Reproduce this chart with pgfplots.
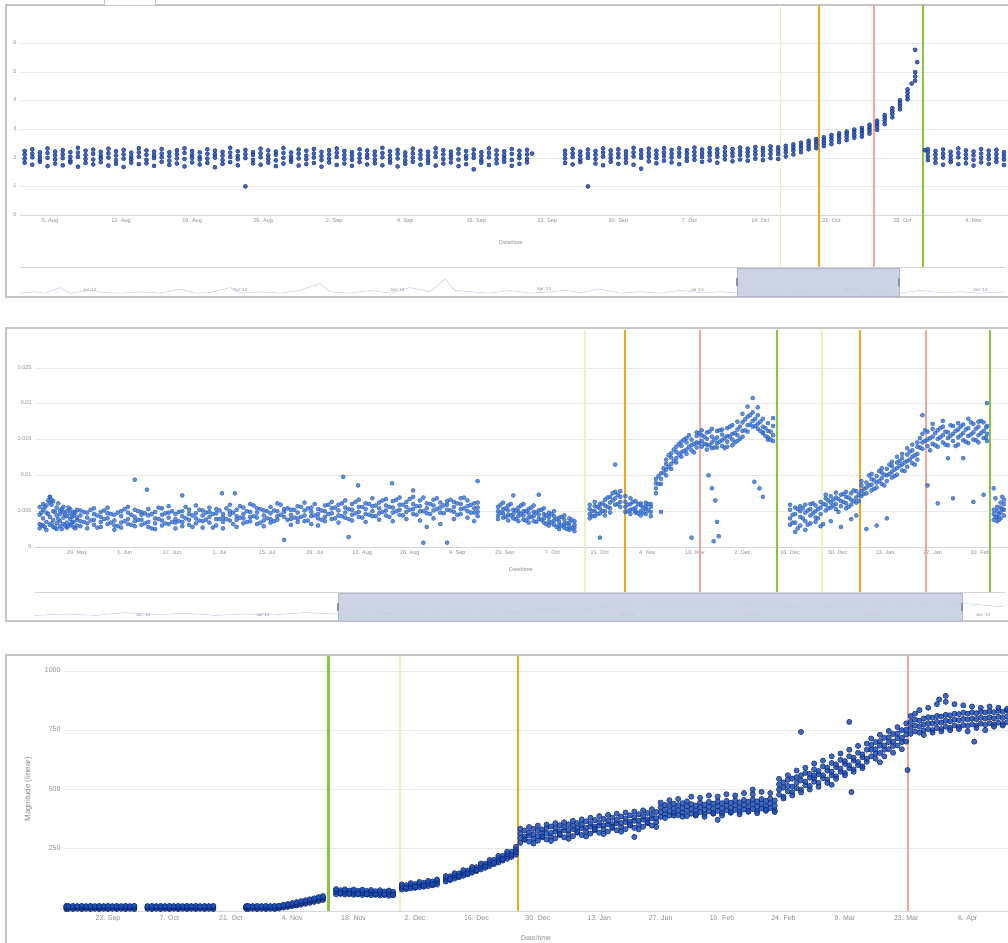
\documentclass[border=0pt]{standalone}
\usepackage{pgfplots}
\usepackage{pgfplotstable}
\pgfplotsset{compat=1.18}
\usepackage{fontspec}
\setmainfont{Liberation Sans}

\definecolor{framec}{HTML}{C4C4C4}
\definecolor{gridc}{HTML}{E8E8E8}
\definecolor{axisc}{HTML}{D0D6E0}
\definecolor{labc}{HTML}{8C8C8C}
\definecolor{cLime}{HTML}{EAF2BE}
\definecolor{cOrange}{HTML}{F2A61F}
\definecolor{cSalmon}{HTML}{F1A69C}
\definecolor{cGreen}{HTML}{8BC53F}
\definecolor{navfill}{HTML}{C7CFE2}
\definecolor{navedge}{HTML}{AEB7CC}
\definecolor{navline}{HTML}{B9CBE3}
\definecolor{pA}{HTML}{1E4AAE}
\definecolor{pAd}{HTML}{0C2574}
\definecolor{pB}{HTML}{3672D6}
\definecolor{pBd}{HTML}{1A4AA8}
\definecolor{pC}{HTML}{1A4DB8}
\definecolor{pCd}{HTML}{081A52}

\pgfplotsset{
  hc/.style={scale only axis, anchor=south west, clip=false,
    axis x line*=bottom, axis y line*=left,
    x axis line style={draw=axisc, line width=0.6pt},
    y axis line style={draw=none},
    major tick length=0pt, tick style={draw=none},
    typeset ticklabels with strut,
    ymajorgrids, grid style={draw=gridc, line width=0.6pt},
    tick label style={text=labc}},
  nav/.style={scale only axis, anchor=south west, clip=false,
    axis x line*=bottom, axis y line*=left,
    x axis line style={draw=none}, y axis line style={draw=none},
    major tick length=0pt, tick style={draw=none}, ytick=\empty,
    xticklabel style={anchor=south, yshift=1pt, font=\fontsize{4.5}{5}\selectfont, text=labc},
    ymin=0, ymax=10},
  dotsA/.style={only marks, mark=*, mark size=2.1pt, mark options={fill=pA, draw=pAd, line width=0.25pt, fill opacity=0.85}},
  dotsB/.style={only marks, mark=*, mark size=2.1pt, mark options={fill=pB, draw=pBd, line width=0.25pt, fill opacity=0.8, draw opacity=0.8}},
  dotsC/.style={only marks, mark=*, mark size=2.7pt, mark options={fill=pC, draw=pCd, line width=0.4pt, fill opacity=0.85, draw opacity=0.9}},
}

% ---------------- Panel 1 data (days from 5 Aug) ----------------
\pgfplotstableread{
x a b c d
-2.50 2.24 2.11 1.97 1.83
-1.75 2.30 2.15 2.02 1.76
-1.00 2.19 2.06 1.93 1.86
-0.25 2.33 2.17 2.00 1.71
0.50 2.22 2.09 1.95 1.80
1.25 2.27 2.13 1.99 1.74
2.00 2.20 2.04 1.91 1.84
2.75 2.35 2.18 2.03 1.69
3.50 2.25 2.10 1.96 1.82
4.25 2.29 2.14 1.94 1.77
5.00 2.21 2.07 1.98 1.85
5.75 2.32 2.16 2.01 1.73
6.50 2.23 2.08 1.92 1.79
7.25 2.28 2.12 1.97 1.68
8.00 2.18 2.05 1.95 1.83
8.75 2.34 2.19 2.04 1.78
9.50 2.26 2.11 1.93 1.81
10.25 2.22 2.09 1.99 1.72
11.00 2.31 2.15 2.02 1.86
11.75 2.20 2.06 1.90 1.75
12.50 2.27 2.13 1.98 1.80
13.25 2.33 2.17 1.96 1.70
14.00 2.24 2.10 2.00 1.84
14.75 2.19 2.03 1.94 1.77
15.50 2.30 2.14 1.97 1.82
16.25 2.25 2.12 2.01 1.67
17.00 2.21 2.08 1.92 1.79
17.75 2.35 2.18 2.03 1.85
18.50 2.23 2.07 1.95 1.74
19.25 2.28 2.13 1.99 1.00
20.00 2.20 2.10 1.93 1.81
20.75 2.32 2.16 2.02 1.76
21.50 2.26 2.09 1.96 1.83
22.25 2.22 2.11 1.91 1.71
23.00 2.34 2.17 2.00 1.80
23.75 2.19 2.05 1.94 1.86
24.50 2.29 2.14 1.98 1.73
25.25 2.25 2.08 1.95 1.78
26.00 2.31 2.15 2.01 1.82
26.75 2.21 2.06 1.92 1.69
27.50 2.27 2.12 1.97 1.84
28.25 2.33 2.18 2.03 1.75
29.00 2.24 2.10 1.96 1.80
29.75 2.20 2.07 1.93 1.72
30.50 2.30 2.13 1.99 1.85
31.25 2.26 2.11 2.00 1.77
32.00 2.22 2.09 1.94 1.81
32.75 2.35 2.17 2.02 1.74
33.50 2.23 2.08 1.95 1.83
34.25 2.28 2.14 1.98 1.70
35.00 2.19 2.06 1.91 1.79
35.75 2.32 2.16 2.01 1.86
36.50 2.25 2.11 1.97 1.76
37.25 2.21 2.07 1.93 1.82
38.00 2.34 2.18 2.03 1.73
38.75 2.27 2.12 1.96 1.80
39.50 2.22 2.10 1.99 1.84
40.25 2.30 2.15 1.94 1.71
41.00 2.24 2.08 1.97 1.78
41.75 2.29 2.13 2.00 1.60
42.50 2.20 2.06 1.92 1.83
43.25 2.33 2.17 2.02 1.75
44.00 2.26 2.11 1.95 1.81
44.75 2.23 2.09 1.98 1.86
45.50 2.31 2.14 1.93 1.72
46.25 2.25 2.10 1.99 1.79
47.00 2.28 2.12 1.96 1.84
50.75 2.25 2.12 1.98 1.82
51.50 2.31 2.16 2.03 1.77
52.25 2.22 2.09 1.95 1.85
53.00 2.29 2.14 2.00 1.00
53.75 2.24 2.11 1.96 1.80
54.50 2.33 2.18 2.04 1.74
55.25 2.26 2.12 1.99 1.86
56.00 2.30 2.15 2.02 1.79
56.75 2.23 2.10 1.97 1.83
57.50 2.35 2.19 2.05 1.76
58.25 2.27 2.13 2.00 1.62
59.00 2.32 2.17 2.04 1.88
59.75 2.25 2.12 1.99 1.81
60.50 2.34 2.19 2.06 1.90
61.25 2.28 2.14 2.01 1.84
62.00 2.33 2.18 2.05 1.78
62.75 2.27 2.15 2.02 1.89
63.50 2.36 2.21 2.07 1.93
64.25 2.29 2.16 2.03 1.86
65.00 2.34 2.20 2.08 1.91
65.75 2.30 2.17 2.04 1.83
66.50 2.37 2.22 2.09 1.95
67.25 2.31 2.18 2.06 1.88
68.00 2.36 2.23 2.10 1.94
68.75 2.32 2.20 2.07 1.90
69.50 2.38 2.24 2.12 1.97
70.25 2.34 2.22 2.09 1.92
71.00 2.40 2.27 2.14 1.99
71.75 2.37 2.25 2.13 1.96
72.50 2.42 2.31 2.20 2.05
73.25 2.47 2.36 2.26 2.12
74.00 2.53 2.43 2.33 2.20
74.75 2.60 2.50 2.40 2.30
75.50 2.66 2.56 2.46 2.34
76.25 2.72 2.62 2.52 2.41
77.00 2.80 2.70 2.60 2.48
77.75 2.86 2.77 2.67 2.55
78.50 2.92 2.84 2.74 2.62
79.25 2.99 2.90 2.80 2.70
80.00 3.05 2.96 2.86 2.74
80.75 3.16 3.06 2.96 2.85
81.50 3.30 3.20 3.10 2.98
82.25 3.50 3.40 3.30 3.18
83.00 3.74 3.64 3.54 3.42
83.75 4.02 3.92 3.82 3.70
84.50 4.40 4.28 4.16 4.05
85.25 5.00 4.85 4.70 5.78
86.50 2.30 2.18 2.05 1.92
87.25 2.24 2.11 1.97 1.83
88.00 2.29 2.14 2.01 1.76
88.75 2.21 2.08 1.95 1.85
89.50 2.33 2.17 2.02 1.78
90.25 2.26 2.12 1.98 1.81
91.00 2.22 2.09 1.93 1.73
91.75 2.31 2.15 2.00 1.84
92.50 2.25 2.10 1.96 1.79
93.25 2.28 2.13 1.99 1.86
94.00 2.20 2.07 1.94 1.75
}\tabA

% ---------------- Panel 2 data (days from 20 May, values in 1e-3) ----------------
\pgfplotstableread{
x a b c d
-11 3.2 4.5 5.6 2.6
-10 4.0 5.2 3.0 6.0
-9 3.5 4.8 5.8 2.4
-8 4.2 6.2 7.0 3.1
-7 3.8 5.0 6.4 2.8
-6 4.4 3.3 5.5 2.5
-5 3.6 4.6 5.1 2.9
-4 4.1 3.2 4.9 5.6
-3 3.4 4.3 2.7 5.0
-2 3.9 4.7 3.1 5.3
-1 3.5 4.4 2.8 4.9
0 3.8 4.1 3.0 5.2
1 3.6 4.4 2.9 5.1
3 4.1 3.3 4.8 2.6
5 3.8 4.6 3.1 5.4
7 3.5 4.2 2.8 4.9
9 4.0 3.2 4.7 5.5
11 3.7 4.5 3.0 2.4
13 4.3 3.4 5.0 2.7
15 3.9 4.8 3.2 5.6
17 4.2 3.6 5.2 2.9
19 3.8 4.5 3.1 4.9
21 4.4 3.5 5.3 2.8
23 4.0 4.9 3.3 2.5
25 4.5 3.7 5.4 3.0
27 4.1 4.8 3.2 5.7
29 3.9 4.6 3.4 2.6
31 4.3 5.0 3.5 2.9
33 4.6 3.8 5.2 3.1
35 4.0 4.7 3.3 5.8
37 4.4 3.6 5.1 2.7
39 4.2 4.9 3.4 5.5
41 4.7 3.9 5.3 3.0
43 4.1 4.6 3.5 2.6
45 4.5 5.0 3.7 5.9
47 4.3 3.8 5.2 2.8
49 4.6 4.0 5.5 3.3
51 4.2 4.9 3.6 6.0
53 4.8 4.1 5.4 3.2
55 4.4 5.1 3.7 2.9
57 4.7 3.9 5.6 3.4
59 4.3 5.0 3.8 6.1
61 4.9 4.2 5.3 1.0
63 4.5 5.2 3.9 3.1
65 4.8 4.0 5.7 3.5
67 4.4 5.1 3.6 6.2
69 4.9 4.3 5.5 3.2
71 4.6 5.3 4.0 3.0
73 5.0 4.2 5.8 3.6
75 4.7 5.4 3.9 6.3
77 5.1 4.4 5.9 3.4
79 4.8 5.5 4.1 6.5
81 5.2 4.5 6.0 3.7
83 4.9 5.6 4.2 6.6
85 5.3 4.6 6.1 3.5
87 5.0 5.7 4.3 6.8
89 5.4 4.7 6.2 3.8
91 5.1 5.8 4.4 6.7
93 5.5 4.8 6.4 3.6
95 5.2 5.9 4.5 6.9
97 5.6 4.9 6.3 3.9
99 5.3 6.0 4.6 7.0
101 5.7 5.0 6.5 3.7
103 5.4 6.1 4.7 2.8
105 5.8 5.1 6.6 4.0
107 5.5 6.2 4.8 3.2
109 5.9 5.2 6.4 0.6
111 5.6 6.3 4.9 3.9
113 5.3 6.0 4.6 6.8
115 5.7 5.0 6.5 4.1
117 5.4 6.1 4.8 3.6
118 5.5 4.9 6.2 4.3
124 5.0 4.4 5.6 3.9
125.5 4.7 5.3 4.1 6.2
127 5.1 4.5 5.8 3.7
128.5 4.6 5.2 4.0 7.2
130 4.9 4.3 5.5 3.6
131.5 4.4 5.0 3.8 6.0
133 4.7 4.1 5.3 3.4
134.5 4.3 4.9 3.6 5.8
136 4.5 3.9 5.1 7.3
137.5 4.0 4.6 3.4 5.4
139 4.2 3.6 4.8 3.0
140.5 3.7 4.3 3.1 5.0
142 3.5 3.0 4.1 2.5
143.5 3.2 3.8 2.7 4.4
145 2.9 3.4 2.4 4.0
146.5 2.7 3.1 2.2 3.6
151 4.6 5.3 4.0 5.9
152.5 5.0 5.7 4.3 6.3
154 5.4 4.7 6.0 1.3
155.5 5.8 5.0 6.6 4.4
157 6.2 5.4 7.0 4.8
158.5 6.8 7.7 5.9 11.5
160 7.0 6.3 7.8 5.6
161.5 5.6 6.3 4.9 7.1
163 5.2 6.0 4.6 6.8
164.5 5.5 4.8 6.4 5.0
166 5.0 5.8 4.4 6.1
167.5 5.3 4.6 6.2 5.7
169 4.9 5.6 4.3 6.0
170.5 8.2 8.9 7.5 9.5
172 9.5 10.3 8.8 4.9
173.5 10.8 11.6 10.0 12.2
175 11.6 12.5 10.9 13.1
176.5 12.4 13.3 11.8 14.0
178 13.2 14.1 12.6 14.7
179.5 13.6 14.6 13.0 15.2
181 14.2 15.0 13.5 1.3
182.5 14.6 15.5 13.9 16.0
184 14.8 15.6 14.0 16.3
185.5 15.1 14.3 16.0 13.6
187 14.6 15.4 13.8 16.5
188.5 15.3 14.5 16.2 13.9
190 14.9 15.7 14.1 16.4
191.5 15.5 14.7 16.6 14.0
193 15.0 15.8 14.2 17.0
194.5 15.6 16.4 14.8 17.5
196 16.2 17.4 15.4 18.6
197.5 17.0 18.2 16.1 19.6
199 17.6 18.8 16.8 20.8
200.5 17.2 18.4 16.5 19.5
202 16.8 17.9 15.9 16.0
203.5 16.2 17.3 15.3 15.0
205 15.6 16.9 14.8 18.0
210 4.0 5.2 3.1 5.9
211.5 4.6 3.4 5.5 2.1
213 4.2 5.0 3.0 5.7
214.5 4.8 3.6 5.9 2.4
216 4.4 5.3 3.3 6.0
217.5 5.0 4.1 5.8 3.5
219 5.5 6.3 4.6 2.9
220.5 5.9 6.8 5.1 7.3
222 6.2 7.1 5.5 3.6
223.5 6.0 6.9 5.3 7.6
225 6.4 7.3 5.7 2.8
226.5 6.1 7.0 5.4 7.7
228 6.6 7.5 5.9 3.9
229.5 6.9 7.8 6.2 4.4
231 7.8 8.6 7.1 9.2
232.5 8.3 9.0 7.5 2.5
234 8.7 9.5 7.9 10.2
235.5 9.0 9.9 8.3 3.0
237 9.6 10.4 8.8 11.0
238.5 10.0 10.9 9.2 4.0
240 10.5 11.3 9.7 11.9
241.5 11.0 11.8 10.1 12.6
243 11.5 12.4 10.7 13.0
244.5 12.0 12.9 11.2 13.8
246 12.6 13.5 11.7 14.3
247.5 13.0 14.0 12.2 14.6
249 14.6 15.8 13.7 18.4
250.5 15.0 16.1 14.1 8.6
252 15.4 16.5 14.4 17.2
253.5 15.1 16.3 14.0 6.1
255 15.6 16.8 14.6 17.6
256.5 15.2 16.0 14.2 12.4
258 15.8 16.9 14.8 6.8
259.5 15.3 16.4 14.3 17.3
261 15.9 17.1 14.9 12.4
262.5 15.5 16.6 14.5 17.9
264 16.0 17.2 15.0 6.3
265.5 15.6 16.8 14.6 17.5
267 16.2 17.4 15.2 7.3
268 15.8 20.1 14.8 16.9
270 3.8 4.6 5.2 8.2
271 4.2 5.0 3.6 5.6
272 4.8 5.5 4.0 6.2
273 5.2 6.0 4.4 6.6
}\tabB

% second, offset set of samples for panel 2
\pgfplotstableread{
x p q
-10.5 4.8 3.0
-9.5 5.5 2.8
-8.5 4.6 6.5
-7.5 3.3 5.9
-6.5 4.9 2.7
-5.5 3.9 6.1
-4.5 5.3 2.5
-3.5 3.0 4.5
-2.5 5.5 2.9
-1.5 4.2 3.4
-0.5 4.8 2.6
2 4.9 3.5
4 3.7 5.2
6 4.4 2.7
8 5.1 3.9
10 3.4 4.6
12 4.8 2.9
14 3.6 5.3
16 4.5 3.1
18 5.0 3.8
20 3.3 4.7
22 4.6 2.6
24 3.9 5.5
26 4.7 3.3
28 3.5 5.0
30 4.9 3.6
32 4.0 5.6
34 4.4 2.8
36 5.2 3.7
38 3.8 4.8
40 4.6 2.7
42 5.1 3.9
44 3.9 5.4
46 4.8 3.2
48 4.1 5.7
50 5.0 3.5
52 4.3 5.8
54 5.3 3.4
56 4.0 5.0
58 5.1 3.6
60 4.5 5.9
62 3.8 5.4
64 5.2 4.1
66 4.2 5.6
68 5.4 3.7
70 4.4 6.0
72 5.1 3.8
74 4.6 5.9
76 5.5 4.0
78 4.3 6.1
80 5.3 3.9
82 4.7 6.3
84 5.6 4.1
86 4.5 6.0
88 5.8 4.3
90 4.9 6.5
92 5.6 4.2
94 5.0 6.6
96 5.9 4.4
98 5.2 6.7
100 5.7 4.5
102 5.0 6.9
104 6.0 4.6
106 5.3 6.8
108 5.8 4.7
110 5.1 6.6
112 6.1 4.5
114 5.4 6.9
116 5.9 4.8
124.75 4.8 5.9
126.25 5.4 4.2
127.75 4.4 6.0
129.25 5.1 3.9
130.75 4.6 5.8
132.25 5.0 3.7
133.75 4.2 5.5
135.25 4.8 3.5
136.75 3.8 5.2
138.25 4.4 3.2
139.75 3.4 4.6
141.25 3.9 2.8
142.75 3.0 4.2
144.25 3.3 2.5
145.75 2.6 3.8
151.75 5.0 4.3
153.25 5.6 4.6
154.75 6.1 5.0
156.25 5.6 6.9
157.75 6.5 7.5
159.25 7.3 6.0
162.25 5.9 5.0
163.75 5.3 6.3
165.25 4.7 6.0
166.75 5.5 4.8
168.25 6.0 5.1
171.25 8.8 9.9
172.75 10.4 11.0
174.25 11.2 12.8
175.75 12.0 13.6
177.25 12.9 14.4
178.75 13.4 15.0
180.25 14.0 15.6
181.75 14.4 13.2
183.25 14.5 15.9
184.75 15.4 14.4
186.25 14.2 16.1
187.75 15.0 13.9
189.25 14.7 16.3
190.75 15.2 13.8
192.25 15.4 16.8
193.75 15.9 14.6
195.25 16.8 15.1
196.75 17.8 16.3
198.25 18.4 17.1
199.75 17.9 16.9
201.25 17.5 16.2
202.75 16.6 15.5
204.25 16.1 15.0
210.75 4.5 3.4
212.25 5.3 2.6
213.75 4.0 5.4
215.25 5.1 3.1
216.75 4.7 6.1
218.25 5.3 4.0
219.75 6.0 3.2
221.25 6.5 5.4
222.75 5.8 6.6
224.25 6.7 4.9
225.75 6.3 7.4
227.25 6.9 5.6
228.75 6.4 7.9
230.25 7.3 6.4
231.75 8.1 7.4
233.25 8.6 10.0
234.75 9.3 8.1
236.25 9.2 10.6
237.75 10.1 8.6
239.25 10.2 11.5
240.75 10.8 9.9
242.25 11.3 12.0
243.75 11.8 10.6
245.25 12.2 13.3
246.75 12.8 11.5
248.25 13.9 15.2
249.75 14.8 16.3
251.25 15.2 13.5
252.75 15.9 14.2
254.25 15.3 16.6
255.75 16.1 14.3
257.25 15.5 17.0
258.75 16.2 14.1
260.25 15.6 16.8
261.75 16.4 14.7
263.25 15.7 17.4
264.75 16.5 14.9
266.25 15.9 17.6
267.75 16.7 15.3
270.5 4.2 6.8
271.5 4.6 3.8
272.5 5.3 7.0
}\tabBB

% ---------------- Panel 3 data (days from 23 Sep) ----------------
\pgfplotstableread{
x a b c d
-9.5 -4 1 5 9
-9 -3 2 6 8
-8 -4 1 5 9
-7 -3 2 6 8
-6 -4 1 5 9
-5 -3 2 6 8
-4 -4 1 5 9
-3 -3 2 6 8
-2 -4 1 5 9
-1 -3 2 6 8
0 -4 1 5 9
1 -3 2 6 8
2 -4 1 5 9
3 -3 2 6 8
4 -4 1 5 9
5 -3 2 6 8
6 -4 1 5 9
9 -3 2 6 8
10 -4 1 5 9
11 -3 2 6 8
12 -4 1 5 9
13 -3 2 6 8
14 -4 1 5 9
15 -3 2 6 8
16 -4 1 5 9
17 -3 2 6 8
18 -4 1 5 9
19 -3 2 6 8
20 -4 1 5 9
21 -3 2 6 8
22 -4 1 5 9
23 -3 2 6 8
24 -4 1 5 9
31.5 -3 2 6 8
32 -4 1 5 9
33 -3 2 6 8
34 -4 1 5 9
35 -3 2 6 8
36 -4 1 5 9
37 -3 2 6 8
38 -4 1 5 9
39 -2 3 7 10
40 2 6 10 14
41 5 9 13 17
42 8 12 16 21
43 11 15 20 25
44 14 19 24 29
45 18 23 28 33
46 22 27 32 37
47 26 31 36 41
48 30 35 40 46
49 34 40 45 51
52 58 66 74 80
53 60 68 75 62
54 57 65 73 79
55 59 67 74 61
56 56 64 72 78
57 58 66 73 60
58 55 63 71 77
59 57 65 72 59
60 54 62 70 76
61 56 64 71 58
62 53 61 69 75
63 55 63 70 57
64 52 60 68 74
65 54 62 69 56
67 78 86 94 100
68 80 88 96 84
69 83 91 99 105
70 85 93 101 89
71 88 96 104 110
72 90 98 106 94
73 93 101 109 115
74 96 104 112 100
75 99 107 115 121
77 112 120 128 135
78 118 126 134 122
79 124 132 140 147
80 130 138 146 134
81 136 144 152 160
82 142 150 158 146
83 149 157 165 173
84 156 164 172 160
85 163 171 180 188
86 170 178 187 175
87 177 186 195 203
88 185 194 203 190
89 192 201 211 220
90 200 210 220 206
91 208 218 228 238
92 216 226 237 222
93 225 236 247 258
94 275 295 315 335
95 288 302 327 290
96 280 306 318 342
97 293 310 334 272
98 284 303 326 348
99 298 318 332 302
100 289 314 337 352
101 302 317 344 283
102 294 322 336 358
103 308 324 349 312
104 298 328 341 362
105 313 329 353 292
106 303 333 347 368
107 318 336 358 322
108 308 337 352 374
109 323 339 366 302
110 314 343 357 381
111 328 344 371 333
112 318 348 362 388
113 333 349 376 312
114 323 353 368 393
115 338 354 381 343
116 328 358 372 398
117 343 359 386 322
118 333 363 378 403
119 348 364 391 352
120 338 368 383 407
121 353 369 396 332
122 343 373 388 412
123 358 374 401 362
124 348 378 393 417
125 362 379 405 342
126 385 405 425 445
127 395 415 435 380
128 390 410 432 455
129 400 420 440 390
130 392 412 434 460
131 402 422 442 385
132 388 410 430 450
133 398 418 438 470
134 390 412 432 395
135 405 425 445 465
136 395 415 436 385
137 408 428 448 475
138 398 418 440 400
139 410 430 450 470
140 400 420 442 390
141 412 432 452 480
142 402 422 444 405
143 414 434 454 475
144 404 424 446 395
145 416 436 456 485
146 406 426 448 410
147 418 438 458 480
148 408 428 450 400
149 420 440 460 490
150 410 430 452 415
151 422 442 462 485
152 412 432 454 405
153 478 500 522 545
154 470 508 530 462
155 492 515 541 560
156 488 512 546 475
157 505 528 552 580
158 500 538 560 488
159 518 533 570 592
160 515 550 566 500
161 533 548 585 610
162 528 565 578 512
163 548 560 597 622
164 542 580 593 528
165 560 575 612 640
166 556 594 606 545
167 575 588 625 652
168 570 608 620 560
169 590 602 640 668
170 585 622 634 575
171 603 616 655 684
172 598 636 648 590
173 617 630 668 694
174 640 668 688 715
175 652 670 700 630
176 654 685 704 731
177 668 686 718 640
178 670 700 720 747
179 684 702 734 655
180 686 716 736 763
181 700 718 750 670
182 702 732 752 779
183 735 760 785 810
184 745 770 795 820
185 740 765 790 835
186 750 775 800 730
187 755 780 805 845
188 750 778 803 740
189 760 785 810 860
190 755 782 808 745
191 765 790 815 870
192 760 788 813 750
193 770 795 820 860
194 765 792 818 755
195 772 798 824 855
196 768 795 820 745
197 775 800 826 850
198 770 797 822 760
199 778 803 828 845
200 772 799 825 750
201 780 805 830 850
202 775 800 826 765
203 782 807 832 845
204 776 802 828 770
205 784 809 834 840
}\tabC

\begin{document}
\begin{tikzpicture}[x=1pt,y=1pt]
\useasboundingbox (0pt,0pt) rectangle (1008pt,942pt);

% frames
\draw[framec, line width=1.2pt] (6pt,645pt) rectangle (1012pt,937pt);
\draw[framec, line width=0.8pt, fill=white] (104pt,937pt) rectangle (155pt,946pt);
\draw[framec, line width=1.2pt] (6pt,321pt) rectangle (1012pt,614pt);
\draw[framec, line width=1.2pt] (6pt,-8pt) rectangle (1012pt,287pt);
\draw[gridc!80!gray, line width=0.6pt] (20pt,675pt) -- (1005pt,675pt);
\draw[gridc!80!gray, line width=0.6pt] (35pt,350pt) -- (1005pt,350pt);

% ============ Panel 1 ============
\begin{axis}[hc, at={(20pt,727pt)}, width=988pt, height=200pt,
  xmin=-2.96, xmax=94.4, ymin=0, ymax=7,
  ytick={0,1,2,3,4,5,6}, yticklabels={0,1,2,3,4,5,6},
  xtick={0,7,14,21,28,35,42,49,56,63,70,77,84,91},
  xticklabels={5. Aug,12. Aug,19. Aug,26. Aug,2. Sep,9. Sep,16. Sep,23. Sep,30. Sep,7. Oct,14. Oct,21. Oct,28. Oct,4. Nov},
  tick label style={font=\fontsize{5.5}{6}\selectfont}]
\addplot[dotsA] table[x=x,y=a] {\tabA};
\addplot[dotsA] table[x=x,y=b] {\tabA};
\addplot[dotsA] table[x=x,y=c] {\tabA};
\addplot[dotsA] table[x=x,y=d] {\tabA};
\addplot[dotsA] coordinates {(85.45,5.35) (84.9,4.6) (47.5,2.15) (86.2,2.27)};
\addplot[cLime, line width=1.6pt] coordinates {(72.0,-1.82) (72.0,7.35)};
\addplot[cOrange, line width=2.4pt] coordinates {(75.8,-1.82) (75.8,7.35)};
\addplot[cSalmon, line width=1.6pt] coordinates {(81.2,-1.82) (81.2,7.35)};
\addplot[cGreen, line width=2.4pt] coordinates {(86.0,-1.82) (86.0,7.35)};
\end{axis}
\node[text=labc, font=\fontsize{5.5}{6}\selectfont] at (511pt,699pt) {Date/time};

% navigator 1
\begin{axis}[nav, at={(20pt,646pt)}, width=985pt, height=28pt, xmin=0, xmax=985,
  xtick={70,220,377,524,677,831,960},
  xticklabels={Jul '12,Oct '12,Jan '13,Apr '13,Jul '13,Oct '13,Jan '14}]
\addplot[navline, line width=0.5pt] coordinates {(0,1) (15,1.5) (25,1) (40,3) (50,1) (70,2) (85,1.2) (100,1) (120,1.5) (140,1) (160,2.5) (175,1) (190,1.2) (210,3) (220,1) (240,1.5) (260,1) (280,2) (300,4.5) (310,1.5) (330,1) (350,2) (370,1) (390,3) (410,1.5) (425,6) (435,2) (450,1.5) (470,1) (490,2) (510,1) (530,1.5) (545,2) (560,1.2) (580,2.5) (600,1) (620,1.5) (640,1) (660,2) (680,1.2) (700,1.5) (720,1) (740,2) (760,1.2) (780,1.5) (800,1) (820,1.8) (840,1) (860,1.5) (880,1) (900,2) (920,1.2) (940,1.5) (960,1) (985,1.5)};
\addplot[draw=navedge, fill=navfill, fill opacity=0.9] coordinates {(717,10) (879,10)} \closedcycle;
\addplot[draw=navedge!80!black, line width=1.5pt] coordinates {(717,3.5) (717,6.5)};
\addplot[draw=navedge!80!black, line width=1.5pt] coordinates {(879,3.5) (879,6.5)};
\end{axis}

% ============ Panel 2 ============
\begin{axis}[hc, at={(35pt,395pt)}, width=973pt, height=212pt,
  xmin=-12.37, xmax=274.2, ymin=0, ymax=29.6,
  ytick={0,5,10,15,20,25}, yticklabels={0,0.005,0.01,0.015,0.02,0.025},
  xtick={0,14,28,42,56,70,84,98,112,126,140,154,168,182,196,210,224,238,252,266},
  xticklabels={20. May,3. Jun,17. Jun,1. Jul,15. Jul,29. Jul,12. Aug,26. Aug,9. Sep,23. Sep,7. Oct,21. Oct,4. Nov,18. Nov,2. Dec,16. Dec,30. Dec,13. Jan,27. Jan,10. Feb},
  tick label style={font=\fontsize{5.5}{6}\selectfont}]
\addplot[dotsB] table[x=x,y=a] {\tabB};
\addplot[dotsB] table[x=x,y=b] {\tabB};
\addplot[dotsB] table[x=x,y=c] {\tabB};
\addplot[dotsB] table[x=x,y=d] {\tabB};
\addplot[dotsB] table[x=x,y=p] {\tabBB};
\addplot[dotsB] table[x=x,y=q] {\tabBB};
\addplot[dotsB] coordinates {(17,9.4) (20.6,8.0) (31,7.2) (42.7,7.5) (46.5,7.5) (78.4,9.8) (82.8,8.6) (92.8,8.9) (99,7.9) (118,9.2) (80,1.4) (102,0.6) (186,10.0) (187,8.2) (188,6.5) (188.5,3.5) (189,1.5) (187.5,0.8) (199.5,9.1) (201,8.2) (202,7.0) (-8,7.0) (-7.5,6.6)};
\addplot[cLime, line width=1.6pt] coordinates {(149.6,-6.28) (149.6,30.3)};
\addplot[cOrange, line width=2.4pt] coordinates {(161.4,-6.28) (161.4,30.3)};
\addplot[cSalmon, line width=1.6pt] coordinates {(183.5,-6.28) (183.5,30.3)};
\addplot[cGreen, line width=2.4pt] coordinates {(206.2,-6.28) (206.2,30.3)};
\addplot[cLime, line width=1.6pt] coordinates {(219.4,-6.28) (219.4,30.3)};
\addplot[cOrange, line width=2.4pt] coordinates {(230.6,-6.28) (230.6,30.3)};
\addplot[cSalmon, line width=1.6pt] coordinates {(250.1,-6.28) (250.1,30.3)};
\addplot[cGreen, line width=2.4pt] coordinates {(268.9,-6.28) (268.9,30.3)};
\end{axis}
\node[text=labc, font=\fontsize{5.5}{6}\selectfont] at (521pt,372pt) {Date/time};

% navigator 2
\begin{axis}[nav, at={(35pt,321pt)}, width=970pt, height=28pt, xmin=0, xmax=970,
  xtick={108,228,352,479,592,716,836,948},
  xticklabels={Jun '13,Jul '13,Aug '13,Sep '13,Oct '13,Nov '13,Dec '13,Jan '14}]
\addplot[navline, line width=0.5pt] coordinates {(0,2) (30,2.5) (60,2) (90,3) (120,2.2) (150,2.8) (180,2) (210,2.5) (240,2.2) (270,3) (300,2.5) (330,3.5) (360,3) (390,3.8) (420,3.2) (450,4) (480,3.5) (510,4.5) (540,3.8) (570,5) (600,6) (630,5.5) (660,6.5) (690,5.8) (720,6.2) (750,5) (780,4.5) (810,5.5) (840,6) (870,6.5) (900,5.8) (930,6.2) (970,5)};
\addplot[draw=navedge, fill=navfill, fill opacity=0.9] coordinates {(303,10) (927,10)} \closedcycle;
\addplot[draw=navedge!80!black, line width=1.5pt] coordinates {(303,3.5) (303,6.5)};
\addplot[draw=navedge!80!black, line width=1.5pt] coordinates {(927,3.5) (927,6.5)};
\end{axis}

% ============ Panel 3 ============
\begin{axis}[hc, at={(64pt,30.4pt)}, width=944pt, height=254.6pt,
  xmin=-10.03, xmax=205.2, ymin=-15, ymax=1059,
  ytick={250,500,750,1000}, yticklabels={250,500,750,1000},
  xtick={0,14,28,42,56,70,84,98,112,126,140,154,168,182,196},
  xticklabels={23. Sep,7. Oct,21. Oct,4. Nov,18. Nov,2. Dec,16. Dec,30. Dec,13. Jan,27. Jan,10. Feb,24. Feb,9. Mar,23. Mar,6. Apr},
  tick label style={font=\fontsize{7}{8}\selectfont},
  ylabel={Magnitude (linear)},
  ylabel style={font=\fontsize{8}{9}\selectfont, text=labc, at={(axis description cs:-0.03,0.48)}}]
\addplot[dotsC] table[x=x,y=a] {\tabC};
\addplot[dotsC] table[x=x,y=b] {\tabC};
\addplot[dotsC] table[x=x,y=c] {\tabC};
\addplot[dotsC] table[x=x,y=d] {\tabC};
\addplot[dotsC] coordinates {(158,743) (169,785) (169.5,489) (182.3,582) (191,895) (189.5,880) (197.5,702) (161,560) (147,500) (120,300) (139,372) (176,615) (165,520)};
\addplot[cGreen, line width=2.8pt] coordinates {(50.2,-13) (50.2,1063)};
\addplot[cLime, line width=1.6pt] coordinates {(66.6,-13) (66.6,1063)};
\addplot[cOrange, line width=2.8pt] coordinates {(93.5,-13) (93.5,1063)};
\addplot[cSalmon, line width=1.6pt] coordinates {(182.4,-13) (182.4,1063)};
\end{axis}
\node[text=labc, font=\fontsize{7}{8}\selectfont] at (536pt,4pt) {Date/time};
\end{tikzpicture}
\end{document}
